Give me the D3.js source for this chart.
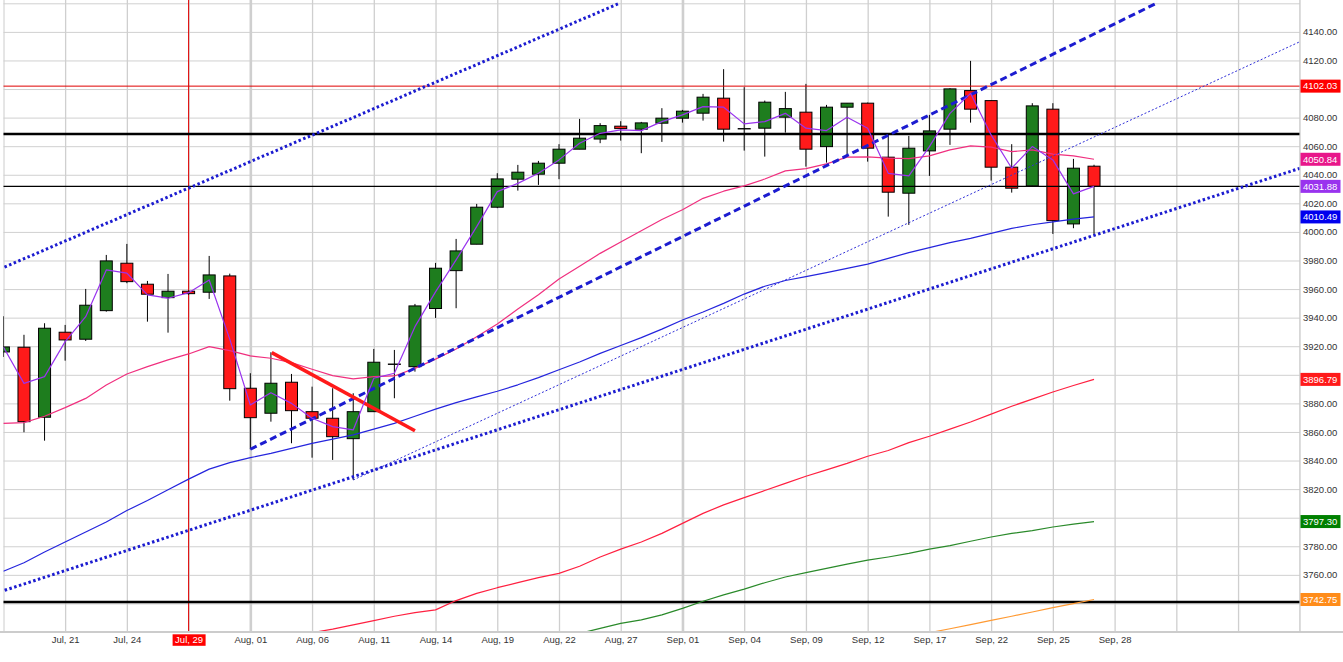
<!DOCTYPE html>
<html lang="en">
<head>
<meta charset="utf-8">
<!-- Load d3.js -->
<script src="https://d3js.org/d3.v7.min.js"></script>
<style>
  body { margin: 0; background: #fff; }
  text { font-family: "Liberation Sans", Arial, sans-serif; }
</style>
</head>

<body>
<div id="my_dataviz"></div>
<script>

    // daily candles, index 0 = first (clipped) bar on the left
    var opens  = [3916, 3919.3, 3870.3, 3929.8, 3924.9, 3944.9, 3978.1, 3963.4, 3954, 3958.5, 3957.8, 3969.2, 3890.6, 3873.1, 3894.8, 3874.2, 3869.6, 3855.3, 3874.2, 3907.4, 3905.7, 3946.4, 3972.9, 3991.4, 4017.3, 4036.9, 4040.4, 4048.1, 4057.9, 4065, 4074, 4071.9, 4076.1, 4079.6, 4083.1, 4093.6, 4072.2, 4072.6, 4080.3, 4083.8, 4059.7, 4087.3, 4090.1, 4052.3, 4027.1, 4056.7, 4071.9, 4098.9, 4091.9, 4045.3, 4032.2, 4085.9, 4005.6, 4046];
    var highs  = [3941, 3928, 3936.1, 3934.9, 3960.1, 3983.9, 3991.6, 3965.7, 3970.6, 3959, 3983.2, 3970.8, 3901.1, 3915.8, 3900.6, 3891.7, 3890.6, 3887.1, 3918.1, 3917.4, 3949.6, 3978.3, 3995.1, 4019.6, 4041.1, 4046.9, 4049.7, 4061.4, 4079.1, 4076.1, 4077.5, 4077, 4086.6, 4085.4, 4096.6, 4113.9, 4101.3, 4091.9, 4098, 4103.6, 4088.9, 4090.1, 4090.5, 4067.9, 4067.2, 4081.9, 4100.6, 4119.7, 4092, 4061.4, 4090.1, 4090.1, 4051.1, 4047];
    var lows   = [3912.5, 3859.8, 3853.9, 3909.9, 3923.7, 3944.2, 3964.1, 3937.2, 3929.5, 3956, 3953.1, 3881.9, 3847.9, 3867.2, 3852.1, 3842, 3840.4, 3826.4, 3874, 3883.6, 3902.2, 3939.8, 3946.6, 3991.4, 4016.6, 4028.9, 4032.9, 4036.9, 4057.9, 4062.1, 4063.9, 4055.1, 4063, 4076.5, 4077.9, 4063.2, 4056.9, 4052.7, 4069.5, 4045.7, 4048.5, 4054, 4049.2, 4010.7, 4004.9, 4039.2, 4060.9, 4076.5, 4035.9, 4027.5, 4032, 3998.6, 4002.6, 3998.4];
    var closes = [3919.5, 3867.2, 3932.6, 3924.4, 3948.7, 3979.7, 3965.2, 3956.4, 3958.5, 3956.8, 3969.9, 3890.3, 3870, 3894.1, 3874.9, 3869.6, 3856.7, 3874.2, 3908.8, 3907.4, 3948.2, 3974.6, 3986.7, 4017.3, 4037.1, 4041.8, 4048.1, 4057.9, 4065.6, 4074.4, 4072.3, 4076.3, 4079.6, 4084.5, 4094.3, 4071.9, 4072.2, 4090.8, 4086.3, 4057.9, 4087.3, 4090.1, 4058.6, 4027.8, 4058.6, 4070.7, 4100.1, 4085.9, 4045.3, 4030.6, 4088.2, 4007.9, 4044.6, 4031.88];

    // moving averages (null = not on the chart)
    var maShort = [3919.5, 3894, 3898.7, 3923.2, 3940.7, 3973.4, 3971.1, 3955.9, 3953.6, 3957.5, 3966.4, 3925, 3878.9, 3887.5, 3880, 3869.6, 3863.7, 3861.4, 3897.6, 3901.1, 3933.7, 3958, 3980.4, 4003.7, 4028.2, 4034, 4041, 4050.4, 4062, 4069, 4071.4, 4070.9, 4077.2, 4081.9, 4087.7, 4087.3, 4075.6, 4077.2, 4083, 4072.6, 4070.9, 4080.3, 4072.6, 4041, 4039.2, 4059.7, 4083, 4097, 4067.9, 4044.6, 4059.7, 4050.4, 4026.6, 4031.88];
    var ma20 = [3866, 3866.5, 3871, 3877, 3883.5, 3892.9, 3900.6, 3905.7, 3910.4, 3914.6, 3919.7, 3916.9, 3913.2, 3911.6, 3908.5, 3903.9, 3899.4, 3897.1, 3898.7, 3899.2, 3904.5, 3911, 3918, 3926.7, 3935.5, 3946, 3956, 3967, 3976, 3985, 3993, 4000.8, 4008.7, 4015.5, 4023.5, 4028.5, 4032.2, 4037, 4042.7, 4044.3, 4047.6, 4052.3, 4052.5, 4051.6, 4051.3, 4053.2, 4057.4, 4060.2, 4059.3, 4056.2, 4057.4, 4054.4, 4053.2, 4050.84];
    var ma50 = [3762.5, 3768.5, 3776, 3783, 3790, 3797, 3805, 3812, 3819.5, 3827, 3834, 3838.5, 3842, 3845, 3848.5, 3852, 3855, 3858, 3862, 3866, 3871, 3876, 3880.5, 3884.5, 3888.5, 3893, 3898, 3903.5, 3909, 3915, 3920.5, 3926, 3932, 3938.4, 3944, 3950, 3956.5, 3962, 3966, 3968.7, 3971.5, 3974.5, 3977.5, 3981.5, 3985.5, 3989, 3992.5, 3995.5, 3999, 4002.5, 4005, 4007, 4009, 4010.49];
    var ma100 = [null, null, null, null, null, null, null, null, null, null, null, null, null, null, 3717, 3719.5, 3722, 3725, 3728, 3731, 3733.5, 3735.5, 3742, 3747, 3751, 3754.5, 3758, 3761, 3766, 3772.5, 3778, 3783, 3789, 3796, 3803, 3809, 3814, 3819, 3824, 3829, 3833.5, 3838, 3843, 3847, 3852.5, 3857, 3862, 3867, 3872.5, 3878, 3883, 3888, 3892.5, 3896.79];
    var ma200 = [null, null, null, null, null, null, null, null, null, null, null, null, null, null, null, null, null, null, null, null, null, null, null, null, null, null, null, 3716, 3719, 3722.5, 3726, 3728.5, 3732, 3736.5, 3741.5, 3746, 3750, 3754.5, 3758.5, 3761.5, 3764.5, 3767.5, 3770.3, 3772.5, 3775, 3778, 3780.5, 3783.5, 3786.5, 3789, 3791, 3793.5, 3795.5, 3797.30];
    var ma300 = [null, null, null, null, null, null, null, null, null, null, null, null, null, null, null, null, null, null, null, null, null, null, null, null, null, null, null, null, null, null, null, null, null, null, null, null, null, null, null, null, null, null, null, null, 3716.6, 3719.5, 3722.3, 3725.2, 3728.1, 3731, 3734, 3737, 3739.9, 3742.75];

    // axis labels
    var dateLabels = ["Jul, 21", "Jul, 24", "Jul, 29", "Aug, 01", "Aug, 06", "Aug, 11", "Aug, 14", "Aug, 19", "Aug, 22", "Aug, 27", "Sep, 01", "Sep, 04", "Sep, 09", "Sep, 12", "Sep, 17", "Sep, 22", "Sep, 25", "Sep, 28"];
    var priceTicks = [3740, 3760, 3780, 3800, 3820, 3840, 3860, 3880, 3900, 3920, 3940, 3960, 3980, 4000, 4020, 4040, 4060, 4080, 4100, 4120, 4140];
    var gridPrices = [3720, 3740, 3760, 3780, 3800, 3820, 3840, 3860, 3880, 3900, 3920, 3940, 3960, 3980, 4000, 4020, 4040, 4060, 4080, 4100, 4120, 4140, 4160];

    // drawn levels and trend lines, [bar index, price]
    var resistance = 4102.03;
    var levelHigh = 4068.5;
    var lastClose = 4031.88;
    var levelLow = 3741;
    var trendDashed = [[12, 3847.9], [56.06, 4160.2]];
    var channelLow = [[-0.17, 3748.1], [63.0, 4044.5]];
    var channelHigh = [[-0.17, 3974.0], [29.97, 4160.2]];
    var trendThin = [[17, 3826.4], [63.0, 4133.1]];
    var trendRed = [[13.04, 3915.5], [20, 3860.9]];
    var markedBar = 9;   // Jul, 29

    var W = 1343, H = 662;
    var plotLeft = 3.3, plotRight = 1300, plotBottom = 632;

    var svg = d3.select("#my_dataviz")
      .append("svg")
        .attr("width", W)
        .attr("height", H);

    // bar index -> x, price -> y
    var x = d3.scaleLinear().domain([0, 54]).range([3.4, 1114.6]);
    var y = d3.scaleLinear().domain([3720, 4160]).range([plotBottom, 3.3]);

    svg.append("clipPath").attr("id", "plot")
      .append("rect")
        .attr("x", plotLeft).attr("y", 0)
        .attr("width", plotRight - plotLeft).attr("height", plotBottom);

    var plot = svg.append("g").attr("clip-path", "url(#plot)");

    // horizontal grid
    plot.append("g")
        .attr("transform", "translate(" + plotLeft + ",0)")
        .call(d3.axisRight(y).tickValues(gridPrices).tickSize(plotRight - plotLeft).tickFormat(""))
        .call(function (g) { g.select(".domain").remove(); })
        .selectAll("line").attr("stroke", "#d0d0d0");

    // vertical grid, every 3 bars; month starts drawn heavier
    var gridIdx = d3.range(0, 64, 3);
    plot.append("g")
        .attr("transform", "translate(0," + plotBottom + ")")
        .call(d3.axisBottom(x).tickValues(gridIdx).tickSize(-plotBottom).tickFormat(""))
        .call(function (g) { g.select(".domain").remove(); })
        .selectAll("line")
          .attr("stroke", "#cfcfcf")
          .attr("stroke-width", function (d) { return (d === 12 || d === 33) ? 2.6 : 1.3; });

    // cursor line on Jul 29
    plot.append("line")
        .attr("x1", x(markedBar)).attr("x2", x(markedBar))
        .attr("y1", 0).attr("y2", plotBottom)
        .attr("stroke", "#e00000").attr("stroke-width", 1);

    // candles
    var bars = d3.range(opens.length);
    var bodyW = 12;
    plot.append("g").selectAll("line")
      .data(bars).enter().append("line")
        .attr("x1", function (i) { return x(i); })
        .attr("x2", function (i) { return x(i); })
        .attr("y1", function (i) { return y(highs[i]); })
        .attr("y2", function (i) { return y(lows[i]); })
        .attr("stroke", "#000").attr("stroke-width", 1);

    plot.append("g").selectAll("rect")
      .data(bars.filter(function (i) { return Math.abs(opens[i] - closes[i]) > 0.5; }))
      .enter().append("rect")
        .attr("x", function (i) { return x(i) - bodyW / 2; })
        .attr("y", function (i) { return y(Math.max(opens[i], closes[i])); })
        .attr("width", bodyW)
        .attr("height", function (i) { return Math.abs(y(opens[i]) - y(closes[i])); })
        .attr("fill", function (i) { return closes[i] > opens[i] ? "#1e7d1e" : "#ff1a1a"; })
        .attr("stroke", "#000").attr("stroke-width", 1);

    // dojis
    plot.append("g").selectAll("line")
      .data(bars.filter(function (i) { return Math.abs(opens[i] - closes[i]) <= 0.5; }))
      .enter().append("line")
        .attr("x1", function (i) { return x(i) - bodyW / 2 - 0.5; })
        .attr("x2", function (i) { return x(i) + bodyW / 2 + 0.5; })
        .attr("y1", function (i) { return y(closes[i]); })
        .attr("y2", function (i) { return y(closes[i]); })
        .attr("stroke", "#000").attr("stroke-width", 1.4);

    // horizontal levels
    function level(v, color, w) {
      plot.append("line")
          .attr("x1", plotLeft).attr("x2", plotRight)
          .attr("y1", y(v)).attr("y2", y(v))
          .attr("stroke", color).attr("stroke-width", w);
    }
    level(resistance, "#e00000", 1);
    level(levelHigh, "#000", 2.6);
    level(lastClose, "#000", 1.2);
    level(levelLow, "#000", 2.6);

    // moving averages
    function series(values, color, w) {
      var line = d3.line()
        .defined(function (d) { return d !== null; })
        .x(function (d, i) { return x(i); })
        .y(function (d) { return y(d); });
      plot.append("path")
          .datum(values)
          .attr("fill", "none")
          .attr("stroke", color)
          .attr("stroke-width", w)
          .attr("stroke-linejoin", "round")
          .attr("d", line);
    }
    series(ma300, "#ff9a33", 1.2);
    series(ma200, "#2a8a2a", 1.2);
    series(ma100, "#ff2040", 1.2);
    series(ma50, "#2525dd", 1.2);
    series(ma20, "#f0307f", 1.2);

    // trend lines
    function trend(pts, color, w, dash) {
      plot.append("line")
          .attr("x1", x(pts[0][0])).attr("y1", y(pts[0][1]))
          .attr("x2", x(pts[1][0])).attr("y2", y(pts[1][1]))
          .attr("stroke", color)
          .attr("stroke-width", w)
          .attr("stroke-dasharray", dash);
    }
    trend(trendThin, "#3030d8", 1, "2,2");
    trend(channelLow, "#1c1cd0", 3, "2.5,2.5");
    trend(channelHigh, "#1c1cd0", 3, "2.5,2.5");
    trend(trendDashed, "#1c1cd0", 3, "7,4");
    trend(trendRed, "#ff1a1a", 3.5, null);

    series(maShort, "#9933ee", 1.2);

    // bottom and right axis frame
    svg.append("line")
        .attr("x1", 0).attr("x2", W)
        .attr("y1", plotBottom).attr("y2", plotBottom)
        .attr("stroke", "#cccccc").attr("stroke-width", 2);
    svg.append("line")
        .attr("x1", plotRight).attr("x2", plotRight)
        .attr("y1", 0).attr("y2", plotBottom)
        .attr("stroke", "#c8c8c8").attr("stroke-width", 1.2);

    // last value tags on the price axis
    var tags = [
      [resistance, "#ff0000"],
      [ma20[53], "#e8178a"],
      [lastClose, "#9933ee"],
      [ma50[53], "#0000ee"],
      [ma100[53], "#ff1a1a"],
      [ma200[53], "#008000"],
      [ma300[53], "#ff8c1a"]
    ];

    // right price axis; labels hidden behind a tag are left out
    var shown = priceTicks.filter(function (p) {
      return !tags.some(function (t) { return Math.abs(y(t[0]) - y(p)) < 8; });
    });
    var yAxis = svg.append("g")
        .attr("transform", "translate(" + plotRight + ",0)")
        .call(d3.axisRight(y).tickValues(shown).tickSize(0).tickPadding(3).tickFormat(d3.format(".2f")));
    yAxis.select(".domain").remove();
    yAxis.selectAll("text")
        .style("font-size", "9.5px")
        .attr("fill", "#333");

    // bottom date axis
    var labelIdx = dateLabels.map(function (d, k) { return 3 + 3 * k; });
    var xAxis = svg.append("g")
        .attr("transform", "translate(0," + plotBottom + ")")
        .call(d3.axisBottom(x).tickValues(labelIdx).tickSize(0).tickPadding(4)
          .tickFormat(function (d, k) { return dateLabels[k]; }));
    xAxis.select(".domain").remove();
    xAxis.selectAll("text")
        .style("font-size", "9.5px")
        .attr("fill", function (d) { return d === markedBar ? "#fff" : "#333"; });
    xAxis.selectAll(".tick")
        .filter(function (d) { return d === markedBar; })
        .insert("rect", "text")
          .attr("x", -16.5).attr("y", 2.3)
          .attr("width", 33).attr("height", 11.5)
          .attr("fill", "#ff0000");

    var tag = svg.append("g").selectAll("g")
      .data(tags).enter().append("g")
        .attr("transform", function (d) { return "translate(" + (plotRight + 0.5) + "," + y(d[0]) + ")"; });
    tag.append("rect")
        .attr("x", 0).attr("y", -6.5)
        .attr("width", 40).attr("height", 13)
        .attr("fill", function (d) { return d[1]; });
    tag.append("text")
        .attr("x", 2.5).attr("y", 0)
        .attr("dy", "0.35em")
        .style("font-size", "9.5px")
        .attr("fill", "#fff")
        .text(function (d) { return d[0].toFixed(2); });

</script>
</body>
</html>
